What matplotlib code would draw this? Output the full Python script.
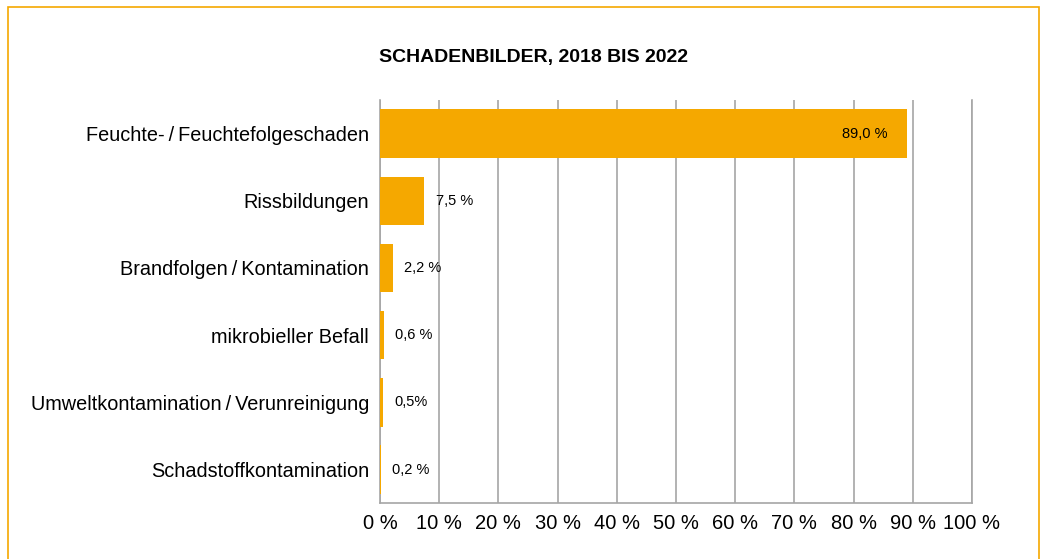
import matplotlib.pyplot as plt
from matplotlib.patches import Rectangle

categories = [
    "Feuchte-\u2009/\u2009Feuchtefolgeschaden",
    "Rissbildungen",
    "Brandfolgen\u2009/\u2009Kontamination",
    "mikrobieller Befall",
    "Umweltkontamination\u2009/\u2009Verunreinigung",
    "Schadstoffkontamination",
]
values = [89.0, 7.5, 2.2, 0.6, 0.5, 0.2]
value_labels = ["89,0 %", "7,5 %", "2,2 %", "0,6 %", "0,5%", "0,2 %"]
ticks = list(range(0, 101, 10))
tick_labels = [f"{t} %" for t in ticks]

orange = "#F5A800"
grid_gray = "#A6A6A6"
plt.rcParams["font.family"] = ["Liberation Sans", "DejaVu Sans"]

fig = plt.figure(figsize=(10.44, 5.59), dpi=100)
ax = fig.add_axes([0.364, 0.10, 0.567, 0.721])

y = list(range(len(categories)))
ax.barh(y, values, height=0.72, color=orange, zorder=3)

ax.set_xlim(0, 100)
ax.set_ylim(len(categories) - 0.5, -0.5)
ax.set_xticks(ticks)
ax.set_xticklabels(tick_labels, fontsize=14.5)
ax.set_yticks(y)
ax.set_yticklabels(categories, fontsize=14.3)
ax.tick_params(axis="both", length=0, pad=8)
ax.tick_params(axis="y", pad=8)
ax.grid(axis="x", color=grid_gray, linewidth=1.2, zorder=0)
ax.spines["top"].set_visible(False)
for side in ["left", "bottom", "right"]:
    ax.spines[side].set_color(grid_gray)
    ax.spines[side].set_linewidth(1.2)

for i, (v, lab) in enumerate(zip(values, value_labels)):
    if v > 50:
        ax.annotate(lab, (v, i), xytext=(-14, 0), textcoords="offset points",
                    ha="right", va="center", fontsize=10.5, zorder=4)
    else:
        ax.annotate(lab, (v, i), xytext=(8, 0), textcoords="offset points",
                    ha="left", va="center", fontsize=10.5, zorder=4)

fig.text(0.511, 0.897, "SCHADENBILDER, 2018 BIS 2022", ha="center", va="center",
         fontsize=14, fontweight="bold")

fig.patches.append(Rectangle((8 / 1044, -0.05), 1031 / 1044, 1 - 7 / 559 + 0.05,
                             transform=fig.transFigure, fill=False,
                             edgecolor=orange, linewidth=1.2))

fig.savefig("out.png", dpi=100)
